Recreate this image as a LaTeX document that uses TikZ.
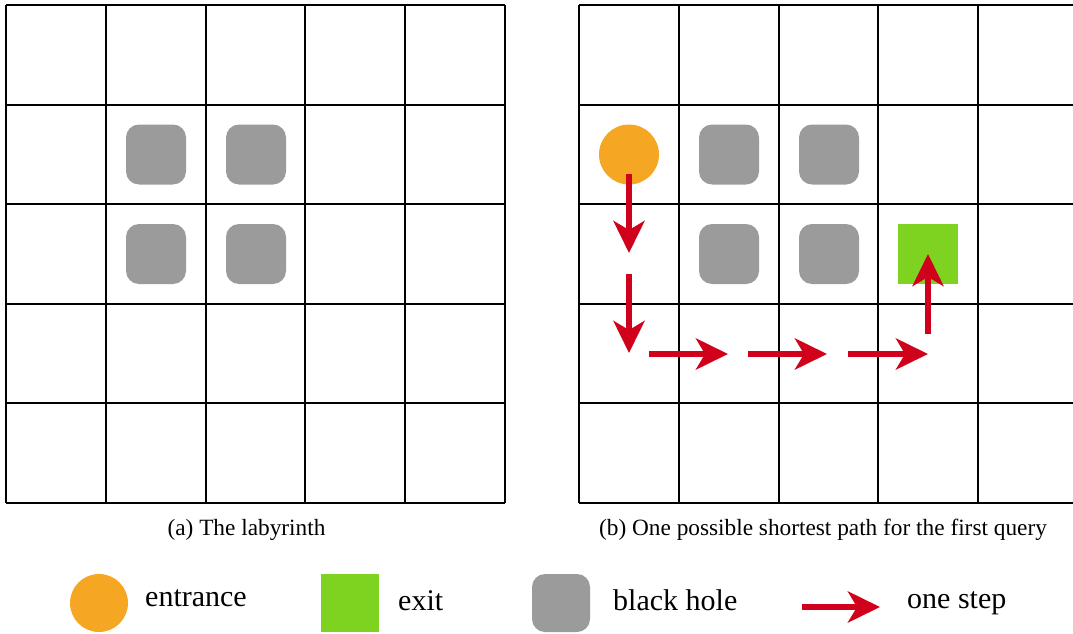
\documentclass[tikz,border=0pt]{standalone}
\usepackage{fontspec}
\setmainfont{Liberation Serif}
\usetikzlibrary{arrows.meta}
\definecolor{entrcol}{HTML}{F5A623}
\definecolor{exitcol}{HTML}{7ED321}
\definecolor{holegray}{HTML}{9B9B9B}
\definecolor{stepred}{HTML}{D0021B}
\begin{document}
\begin{tikzpicture}[x=1pt,y=-1pt,
  gridline/.style={line width=2pt, draw=black},
  hole/.style={rectangle, fill=holegray, rounded corners=13pt, minimum size=60pt, inner sep=0pt},
  entr/.style={circle, fill=entrcol, minimum size=60pt, inner sep=0pt},
  exitbox/.style={rectangle, fill=exitcol, minimum size=60pt, inner sep=0pt},
  stepar/.style={draw=stepred, line width=6pt, -{Stealth[length=32pt,width=31pt,inset=9pt]}},
  captxt/.style={inner sep=0pt, anchor=base, font=\fontsize{23.3}{27}\selectfont},
  legtxt/.style={inner sep=0pt, anchor=base west, font=\fontsize{30}{35}\selectfont}]
\useasboundingbox (0,0) rectangle (1073,634);
% grid (a)
\foreach \k in {0,...,5} {
  \draw[gridline] (6+99.8*\k,5) -- (6+99.8*\k,503);
  \draw[gridline] (6,5+99.6*\k) -- (505,5+99.6*\k);
}
% grid (b)
\foreach \k in {0,...,5} {
  \draw[gridline] (579+99.8*\k,5) -- (579+99.8*\k,503);
  \draw[gridline] (579,5+99.6*\k) -- (1078,5+99.6*\k);
}
% holes (a)
\node[hole] (a11) at (156,154.5) {};
\node[hole] (a21) at (256,154.5) {};
\node[hole] (a12) at (156,254) {};
\node[hole] (a22) at (256,254) {};
% holes (b)
\node[hole] (b11) at (729,154.5) {};
\node[hole] (b21) at (829,154.5) {};
\node[hole] (b12) at (729,254) {};
\node[hole] (b22) at (829,254) {};
% entrance and exit
\node[entr] (ent) at (629,154.5) {};
\node[exitbox] (ext) at (928,254) {};
% path
\coordinate (p1s) at (629,174);
\coordinate (p1e) at (629,253);
\coordinate (p2s) at (629,274);
\coordinate (p2e) at (629,353);
\coordinate (p3s) at (649,354);
\coordinate (p3e) at (728,354);
\coordinate (p4s) at (748,354);
\coordinate (p4e) at (827,354);
\coordinate (p5s) at (848,354);
\coordinate (p5e) at (928,354);
\coordinate (p6s) at (928,334);
\coordinate (p6e) at (928,254);
\draw[stepar] (p1s) -- (p1e);
\draw[stepar] (p2s) -- (p2e);
\draw[stepar] (p3s) -- (p3e);
\draw[stepar] (p4s) -- (p4e);
\draw[stepar] (p5s) -- (p5e);
\draw[stepar] (p6s) -- (p6e);
% captions
\node[captxt] (capa) at (246.5,535) {(a) The labyrinth};
\node[captxt] (capb) at (823,535) {(b) One possible shortest path for the first query};
% legend
\node[entr, minimum size=58pt] (lent) at (99,603) {};
\node[legtxt] (lentt) at (145,606) {entrance};
\node[exitbox, minimum size=58pt] (lext) at (350,603) {};
\node[legtxt] (lextt) at (398,610) {exit};
\node[hole, minimum size=58pt] (lhole) at (561,603) {};
\node[legtxt] (lholet) at (613,610) {black hole};
\coordinate (las) at (802,607);
\coordinate (lae) at (880,607);
\draw[stepar] (las) -- (lae);
\node[legtxt] (lart) at (907,608) {one step};
\end{tikzpicture}
\end{document}
